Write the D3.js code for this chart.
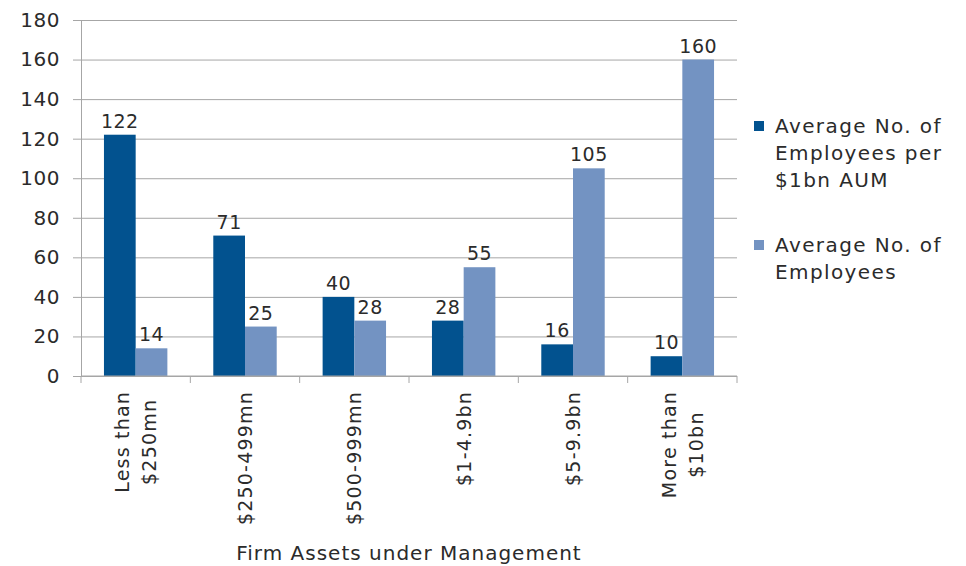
<!DOCTYPE html>
<html>
<head>
<meta charset="utf-8">
<script src="https://cdn.jsdelivr.net/npm/d3@7"></script>
<style>
  body { margin: 0; background: #fff; }
  svg { display: block; }
  text { font-family: "DejaVu Sans", sans-serif; fill: #2b2b2b; }
</style>
</head>
<body>
<svg id="chart" width="966" height="566"></svg>
<script>
const categories = [
  ["Less than", "$250mn"],
  ["$250-499mn"],
  ["$500-999mn"],
  ["$1-4.9bn"],
  ["$5-9.9bn"],
  ["More than", "$10bn"]
];
const seriesNames = [
  ["Average No. of", "Employees per", "$1bn AUM"],
  ["Average No. of", "Employees"]
];
const perBillion = [122, 71, 40, 28, 16, 10];
const employees = [14, 25, 28, 55, 105, 160];
const yTicks = [0, 20, 40, 60, 80, 100, 120, 140, 160, 180];
const colors = ["#02528f", "#7393c2"];

const svg = d3.select("#chart");
const margin = { top: 20, right: 229, bottom: 190, left: 81 };
const width = 966, height = 566;

const catKeys = categories.map((c, i) => i);
const x = d3.scaleBand().domain(catKeys).range([margin.left, width - margin.right]).paddingInner(0.42).paddingOuter(0.21);
const x1 = d3.scaleBand().domain([0, 1]).range([0, x.bandwidth()]);
const y = d3.scaleLinear().domain([0, 180]).range([height - margin.bottom, margin.top]);

// grid lines + y axis
svg.append("g")
  .attr("transform", `translate(${margin.left},0)`)
  .call(d3.axisLeft(y).tickValues(yTicks).tickSize(-(width - margin.right - margin.left)).tickSizeOuter(0).tickPadding(21))
  .call(g => g.select(".domain").attr("stroke", "#a6a6a6"))
  .call(g => g.selectAll(".tick line").attr("stroke", "#a6a6a6").attr("x1", -8))
  .call(g => g.selectAll(".tick text").attr("font-size", 20).attr("letter-spacing", 0.5)
    .style("font-family", "DejaVu Sans").attr("fill", "#2b2b2b"));

// bars
const data = [perBillion, employees];
const groups = svg.append("g").selectAll("g")
  .data(catKeys)
  .join("g")
  .attr("transform", i => `translate(${x(i)},0)`);

groups.selectAll("rect")
  .data(i => data.map((s, k) => ({ k, v: s[i] })))
  .join("rect")
  .attr("x", d => x1(d.k))
  .attr("width", x1.bandwidth())
  .attr("y", d => y(d.v))
  .attr("height", d => y(0) - y(d.v))
  .attr("fill", d => colors[d.k]);

groups.selectAll("text.val")
  .data(i => data.map((s, k) => ({ k, v: s[i] })))
  .join("text")
  .attr("class", "val")
  .attr("x", d => x1(d.k) + x1.bandwidth() / 2)
  .attr("y", d => y(d.v) - 7)
  .attr("text-anchor", "middle")
  .attr("font-size", 19)
  .attr("letter-spacing", 0.5)
  .text(d => d.v);

// x axis
const step = x.step();
const xAxisG = svg.append("g").attr("transform", `translate(0,${y(0)})`);
xAxisG.append("line")
  .attr("x1", margin.left).attr("x2", width - margin.right)
  .attr("stroke", "#a6a6a6");
const edges = catKeys.map(i => x(i) - x.paddingInner() * step / 2).concat([width - margin.right]);
xAxisG.selectAll("line.tk").data(edges).join("line")
  .attr("class", "tk")
  .attr("x1", d => d).attr("x2", d => d)
  .attr("y1", 0).attr("y2", 7)
  .attr("stroke", "#a6a6a6");

// category labels: rotated, block top-aligned under axis, lines centred within block
const lh = 27;
xAxisG.selectAll("text.cat").data(catKeys).join("text")
  .attr("class", "cat")
  .attr("font-size", 19)
  .attr("letter-spacing", 1.2)
  .attr("text-anchor", "middle")
  .each(function (i) {
    const lines = categories[i];
    const t = d3.select(this);
    const off = -(lines.length - 1) * lh / 2;
    lines.forEach((l, j) => {
      t.append("tspan").attr("x", 0).attr("y", off + j * lh + 7).text(l);
    });
    let maxW = 0;
    t.selectAll("tspan").each(function () { maxW = Math.max(maxW, this.getComputedTextLength()); });
    const cx = x(i) + x.bandwidth() / 2;
    t.attr("transform", `translate(${cx},${15 + maxW / 2}) rotate(-90)`);
  });

svg.append("text")
  .attr("x", (margin.left + width - margin.right) / 2)
  .attr("y", 560)
  .attr("text-anchor", "middle")
  .attr("font-size", 20)
  .attr("letter-spacing", 1)
  .text("Firm Assets under Management");

// legend
const legendY = [126, 245];
const legend = svg.append("g").selectAll("g").data([0, 1]).join("g")
  .attr("transform", k => `translate(754,${legendY[k]})`);
legend.append("rect")
  .attr("x", 0).attr("y", -5).attr("width", 10).attr("height", 10)
  .attr("fill", k => colors[k]);
legend.append("text")
  .attr("font-size", 20)
  .attr("letter-spacing", 1.4)
  .each(function (k) {
    const t = d3.select(this);
    seriesNames[k].forEach((l, j) => {
      t.append("tspan").attr("x", 21).attr("y", j * lh + 7).text(l);
    });
  });
</script>
</body>
</html>
